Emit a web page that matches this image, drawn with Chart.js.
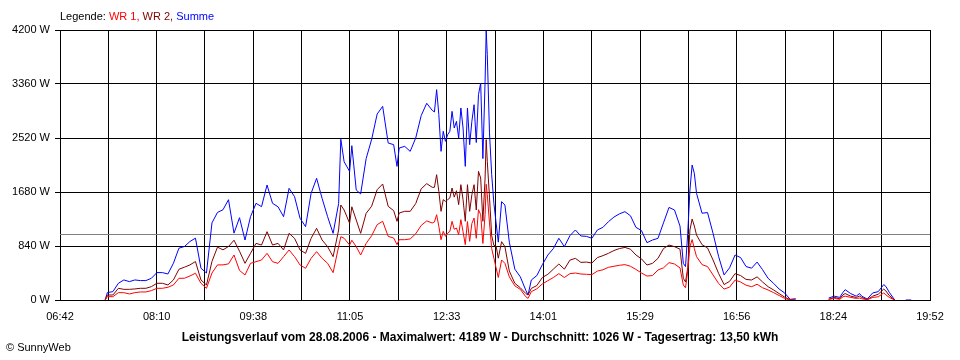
<!DOCTYPE html>
<html>
<head>
<meta charset="utf-8">
<title>Leistungsverlauf 28.08.2006</title>
<script src="https://cdn.jsdelivr.net/npm/chart.js@4/dist/chart.umd.min.js"></script>
<style>
  body { margin: 0; background: #fff; }
  #wrap { position: relative; width: 960px; height: 360px; font-family: "Liberation Sans", Arial, sans-serif; font-size: 11px; color: #000; }
  #chart { position: absolute; left: 0; top: 0; }
  .txt { position: absolute; line-height: 13px; white-space: nowrap; }
  #legend { left: 60px; top: 10px; }
  #caption { left: 0; width: 960px; top: 330px; text-align: center; font-weight: bold; font-size: 12px; line-height: 14px; }
  #copy { left: 6px; top: 341px; }
</style>
</head>
<body>
<div id="wrap">
  <canvas id="chart" width="960" height="360"></canvas>
  <div class="txt" id="legend"></div>
  <div class="txt" id="caption"></div>
  <div class="txt" id="copy">© SunnyWeb</div>
</div>
<script>
// Messzeitpunkte (HH:MM)
const times = [
  '07:23','07:25','07:30','07:35','07:40','07:45','07:50','07:55','08:00','08:05','08:10','08:15','08:20','08:25','08:30','08:35','08:40','08:45','08:50','08:55','09:00','09:05','09:10','09:15','09:20','09:25',
  '09:30','09:35','09:40','09:45','09:50','09:55','10:00','10:05','10:10','10:15','10:20','10:25','10:30','10:35','10:40','10:45','10:50','10:55','10:57','11:00','11:05','11:07','11:11','11:15','11:20','11:25',
  '11:30','11:35','11:40','11:45','11:48','11:50','11:55','12:00','12:05','12:10','12:15','12:20',
  '12:22','12:24','12:26','12:28','12:30','12:32','12:34','12:36','12:38','12:40','12:42','12:44','12:46','12:48','12:50','12:52','12:54','12:56','12:58','13:00','13:02','13:04','13:06','13:08','13:09','13:10','13:12','13:14','13:16','13:18','13:20',
  '13:23','13:26','13:30','13:35','13:40','13:45','13:47','13:50','13:55','14:00','14:05','14:10','14:15','14:20','14:25','14:30','14:35','14:40','14:45','14:50','14:55','15:00','15:05','15:10','15:15','15:20','15:25','15:30',
  '15:35','15:40','15:45','15:50','15:55','16:00','16:05','16:08','16:10','16:12','16:14','16:16','16:18','16:20','16:25','16:30','16:35','16:40','16:45','16:50','16:55','17:00','17:05','17:10','17:15','17:20','17:25','17:30','17:35','17:40','17:45','17:50',
  '17:55','18:15','18:20','18:25','18:30','18:33','18:35','18:40','18:45','18:48','18:50','18:55','19:00','19:05','19:10','19:12','19:15','19:20','19:25','19:30','19:35'
];

// Leistung in W
const wr1 = [
  0,52,52,114,114,94,114,125,125,146,182,182,198,234,338,338,374,416,260,182,420,546,546,562,700,460,
  389,570,596,622,726,596,570,674,778,674,544,493,648,752,648,570,425,830,985,960,855,930,830,700,881,1000,
  1172,1224,990,964,861,938,938,950,1030,1160,1230,1198,
  1213,1327,1146,938,1068,990,1040,1068,1224,1100,1120,1016,1250,1060,861,1220,912,1190,1275,960,1405,1327,880,1327,1800,1638,1200,800,650,500,350,
  622,570,360,220,165,50,26,130,175,250,300,350,410,350,410,420,404,400,395,450,470,508,525,540,550,525,475,420,
  373,380,467,500,581,560,500,233,190,450,830,940,800,674,550,520,389,259,170,200,310,280,230,207,245,190,156,114,70,25,0,0,
  null,null,10,25,10,50,60,40,25,30,20,5,40,50,110,80,40,0,null,null,null
];
const wr2 = [
  0,78,78,182,166,166,172,182,182,208,260,260,234,312,478,510,546,598,312,234,600,822,780,832,930,760,
  570,726,881,855,1063,855,881,778,1037,959,778,726,959,1115,933,830,674,1089,1478,1400,1193,1450,1244,1037,1348,1460,
  1716,1804,1457,1390,1224,1353,1380,1379,1500,1730,1810,1753,
  1753,1950,1690,1379,1561,1535,1560,1587,1742,1600,1700,1483,1794,1560,1224,1794,1379,1638,1794,1400,2001,1898,1224,1898,2494,2157,1600,1000,850,840,650,
  907,830,450,260,190,100,78,181,225,350,400,480,560,480,620,648,585,590,575,660,690,726,770,800,818,790,700,640,
  544,570,648,800,855,830,790,337,280,500,1089,1260,1150,1011,860,810,622,415,240,290,410,380,320,311,360,280,207,156,100,45,5,0,
  null,null,10,40,20,80,100,60,40,60,40,5,60,90,170,140,70,0,null,null,null
];
const summe = [
  0,115,130,260,312,286,312,302,302,338,426,426,405,572,806,832,910,962,494,420,1200,1362,1404,1560,1040,1280,
  933,1296,1504,1452,1789,1504,1450,1296,1737,1607,1270,1141,1659,1893,1581,1296,1037,1500,2500,2150,2000,2400,1711,1650,2200,2500,
  2893,3012,2442,2416,2079,2364,2390,2312,2520,2870,3060,2950,
  2925,3272,2883,2312,2624,2468,2572,2624,2935,2675,2779,2520,2987,2675,2079,2987,2416,2779,3038,2450,3194,3375,2200,3401,4189,3816,2600,1950,1500,1200,900,
  1530,1478,900,480,360,150,80,311,380,550,700,800,960,830,1000,1089,996,990,960,1090,1130,1218,1290,1340,1374,1310,1130,1080,
  892,933,959,1200,1440,1400,1150,570,520,1037,1711,2100,1970,1659,1350,1360,1037,680,390,500,700,660,520,495,590,470,337,259,170,110,10,20,
  null,null,30,60,40,120,160,100,60,100,60,15,110,130,240,210,120,0,null,0,0
];

const xTickLabels = ['06:42','08:10','09:38','11:05','12:33','14:01','15:29','16:56','18:24','19:52'];
const yMax = 4200;
const yStep = 840;

const seriesNames = ['WR 1', 'WR 2', 'Summe'];
const reportDate = '28.08.2006';
const maxValue = 4189;
const avgValue = 1026;
const dayYield = '13,50';

const colors = ['#ff0000', '#800000', '#0000ff'];
const fontFamily = '"Liberation Sans", Arial, sans-serif';

function toMin(s) {
  const [h, m] = s.split(':').map(Number);
  return h * 60 + m;
}

function series(values) {
  return times.map((t, i) => ({ x: toMin(t), y: values[i] }));
}

const xMin = toMin(xTickLabels[0]);
const xMax = toMin(xTickLabels[xTickLabels.length - 1]);
const halfSteps = (xTickLabels.length - 1) * 2;

// Durchschnittslinie (grau)
const averageLine = {
  id: 'averageLine',
  beforeDatasetsDraw(chart) {
    const { ctx, chartArea, scales } = chart;
    const y = Math.round(scales.y.getPixelForValue(avgValue)) + 0.5;
    ctx.save();
    ctx.strokeStyle = '#808080';
    ctx.lineWidth = 1;
    ctx.beginPath();
    ctx.moveTo(chartArea.left, y);
    ctx.lineTo(chartArea.right, y);
    ctx.stroke();
    ctx.restore();
  }
};

document.getElementById('legend').innerHTML = 'Legende: ' + seriesNames
  .map((n, i) => `<span style="color:${colors[i]}">${n}${i < seriesNames.length - 1 ? ',' : ''}</span>`)
  .join(' ');
document.getElementById('caption').textContent =
  `Leistungsverlauf vom ${reportDate} - Maximalwert: ${maxValue} W - Durchschnitt: ${avgValue} W - Tagesertrag: ${dayYield} kWh`;

const ctx = document.getElementById('chart').getContext('2d');
new Chart(ctx, {
  type: 'line',
  data: {
    datasets: [
      { label: seriesNames[0], data: series(wr1), borderColor: colors[0] },
      { label: seriesNames[1], data: series(wr2), borderColor: colors[1] },
      { label: seriesNames[2], data: series(summe), borderColor: colors[2] }
    ]
  },
  options: {
    responsive: false,
    animation: false,
    spanGaps: false,
    elements: {
      line: { borderWidth: 1, tension: 0, fill: false },
      point: { radius: 0 }
    },
    layout: { padding: { top: 30, right: 30, left: 0, bottom: 0 } },
    plugins: {
      legend: { display: false },
      tooltip: { enabled: false }
    },
    scales: {
      x: {
        type: 'linear',
        min: xMin,
        max: xMax,
        afterBuildTicks: (scale) => {
          scale.ticks = Array.from({ length: halfSteps + 1 }, (_, i) => ({ value: xMin + i * (xMax - xMin) / halfSteps }));
        },
        afterFit: (scale) => { scale.height = 60; },
        grid: { color: '#000', drawTicks: false },
        border: { color: '#000' },
        ticks: {
          color: '#000',
          font: { family: fontFamily, size: 11 },
          padding: 10,
          maxRotation: 0,
          autoSkip: false,
          callback: (value, index) => index % 2 === 0 ? xTickLabels[index / 2] : ''
        }
      },
      y: {
        min: 0,
        max: yMax,
        afterFit: (scale) => { scale.width = 60; },
        grid: { color: '#000', tickLength: 5 },
        border: { color: '#000' },
        ticks: {
          stepSize: yStep,
          color: '#000',
          font: { family: fontFamily, size: 11 },
          padding: 5,
          callback: (value) => value + ' W'
        }
      }
    }
  },
  plugins: [averageLine]
});
</script>
</body>
</html>
